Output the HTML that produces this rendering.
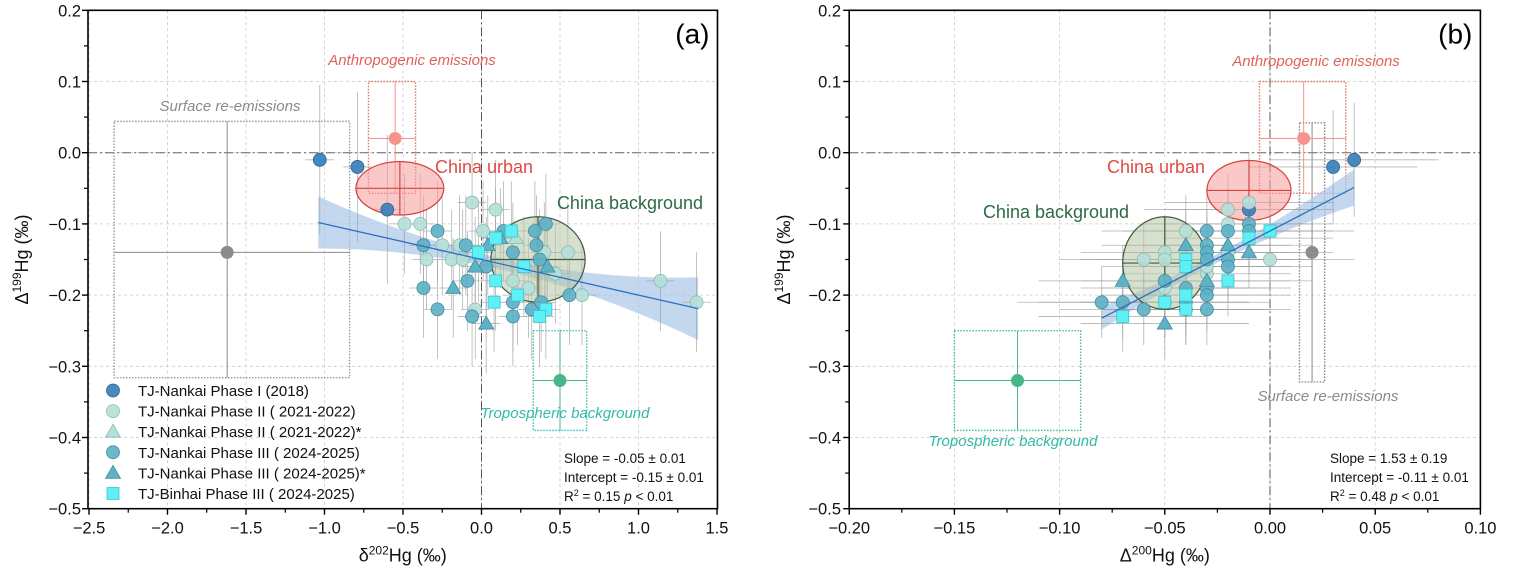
<!DOCTYPE html>
<html><head><meta charset="utf-8"><style>
html,body{margin:0;padding:0;background:#fff;}
svg{display:block;font-family:"Liberation Sans",Arial,sans-serif;}
</style></head><body>
<svg id="fig" width="1514" height="586" viewBox="0 0 1514 586" xmlns="http://www.w3.org/2000/svg">
<g id="pa"></g>
<g id="pb"></g>
</svg>
<script>
// ---------- Panel (a) data: delta202Hg vs Delta199Hg ----------
const aP1x=[-1.03,-0.79,-0.60];
const aP1y=[-0.01,-0.02,-0.08];
const aP2x=[-0.06,0.09,-0.49,-0.39,0.01,-0.35,-0.25,-0.14,-0.19,-0.12,0.20,0.40,0.55,0.64,1.14,1.37,-0.04,0.30,0.47];
const aP2y=[-0.07,-0.08,-0.10,-0.10,-0.11,-0.15,-0.13,-0.13,-0.15,-0.15,-0.18,-0.14,-0.14,-0.20,-0.18,-0.21,-0.22,-0.19,-0.17];
const aP2tx=[0.22,-0.02];
const aP2ty=[-0.12,-0.16];
const aP3x=[-0.28,-0.37,-0.10,-0.37,-0.28,-0.09,-0.06,0.03,0.14,0.20,0.34,0.41,0.35,0.37,0.56,0.20,0.20,0.32,0.38];
const aP3y=[-0.11,-0.13,-0.13,-0.19,-0.22,-0.18,-0.23,-0.16,-0.11,-0.14,-0.11,-0.10,-0.13,-0.15,-0.20,-0.21,-0.23,-0.22,-0.21];
const aP3tx=[-0.18,0.03,0.42,0.12,-0.04,0.04];
const aP3ty=[-0.19,-0.24,-0.16,-0.12,-0.16,-0.13];
const aBx=[0.19,0.09,-0.02,0.27,0.09,0.23,0.08,0.41,0.37];
const aBy=[-0.11,-0.12,-0.14,-0.16,-0.18,-0.20,-0.21,-0.22,-0.23];
const aFit=[-0.05,-0.15];        // slope, intercept
const aFitRange=[-1.04,1.38];
const aErr=[0.09,0.07];          // typical x, y error
const aXTicks=[-2.5,-2.0,-1.5,-1.0,-0.5,0.0,0.5,1.0,1.5];
const aXLabels=["\u22122.5","\u22122.0","\u22121.5","\u22121.0","\u22120.5","0.0","0.5","1.0","1.5"];
// ---------- Panel (b) data: Delta200Hg vs Delta199Hg ----------
const bP1x=[0.04,0.03,-0.01];
const bP1y=[-0.01,-0.02,-0.08];
const bP2x=[-0.01,-0.02,-0.02,-0.04,-0.06,-0.05,-0.05,0.00,-0.02,-0.03,-0.05,-0.05,-0.03];
const bP2y=[-0.07,-0.08,-0.10,-0.11,-0.15,-0.14,-0.15,-0.15,-0.14,-0.17,-0.19,-0.21,-0.16];
const bP3x=[-0.01,-0.03,-0.02,-0.03,-0.03,-0.03,-0.02,-0.02,-0.03,-0.03,-0.03,-0.04,-0.04,-0.04,-0.05,-0.06,-0.07,-0.08,-0.01];
const bP3y=[-0.10,-0.11,-0.11,-0.13,-0.14,-0.15,-0.15,-0.16,-0.19,-0.20,-0.22,-0.19,-0.21,-0.22,-0.18,-0.22,-0.21,-0.21,-0.11];
const bP3tx=[-0.07,-0.05,-0.04,-0.02,-0.01,-0.03];
const bP3ty=[-0.18,-0.24,-0.13,-0.13,-0.14,-0.18];
const bBx=[0.00,-0.01,-0.04,-0.04,-0.02,-0.04,-0.05,-0.04,-0.07];
const bBy=[-0.11,-0.12,-0.15,-0.16,-0.18,-0.20,-0.21,-0.22,-0.23];
const bFit=[1.53,-0.11];
const bFitRange=[-0.08,0.04];
const bErr=[0.04,0.05];
const bXTicks=[-0.20,-0.15,-0.10,-0.05,0.00,0.05,0.10];
const bXLabels=["\u22120.20","\u22120.15","\u22120.10","\u22120.05","0.00","0.05","0.10"];
const yTicks=[0.2,0.1,0.0,-0.1,-0.2,-0.3,-0.4,-0.5];
const yLabels=["0.2","0.1","0.0","\u22120.1","\u22120.2","\u22120.3","\u22120.4","\u22120.5"];

const NS="http://www.w3.org/2000/svg";
function mk(parent,tag,attrs,text){const e=document.createElementNS(NS,tag);for(const k in attrs)e.setAttribute(k,attrs[k]);if(text!==undefined)e.textContent=text;parent.appendChild(e);return e;}
const Y=v=>152.7-712*v;
const XA=v=>481.5+157*v;
const XB=v=>1270+2104*v;

const COL={p1:["#3b7fb7","#2a6597"],p2:["#b5e0d8","#8fb9b2"],p3:["#5fb1c6","#3d8ea4"],bh:["#5ef0f5","#35c6cf"]};

function marker(g,shape,cx,cy,c,name){
  let e;
  if(shape==="c"){e=mk(g,"circle",{cx:cx,cy:cy,r:6.5,fill:c[0],stroke:c[1],"stroke-width":0.8,"fill-opacity":0.92});}
  else if(shape==="t"){e=mk(g,"polygon",{points:`${cx},${cy-7.5} ${cx-7.5},${cy+5.5} ${cx+7.5},${cy+5.5}`,fill:c[0],stroke:c[1],"stroke-width":0.8});}
  else {e=mk(g,"rect",{x:cx-6,y:cy-6,width:12,height:12,fill:c[0],stroke:c[1],"stroke-width":0.8});}
  
  
  return e;
}

function panel(g,X,x0,x1,xt){
  const yT=Y(0.2),yB=Y(-0.5);
  xt.forEach(v=>{const l=mk(g,"line",{x1:X(v),x2:X(v),y1:yT,y2:yB,stroke:"#c8c8c8","stroke-width":0.8,"stroke-dasharray":"3,3"});
    
    });
  yTicks.forEach(v=>{const l=mk(g,"line",{x1:x0,x2:x1,y1:Y(v),y2:Y(v),stroke:"#c8c8c8","stroke-width":0.8,"stroke-dasharray":"3,3"});
    
    });
  let z=mk(g,"line",{x1:x0,x2:x1,y1:Y(0),y2:Y(0),stroke:"#666","stroke-width":1,"stroke-dasharray":"9,3,2,3"});
  
  
  z=mk(g,"line",{x1:X(0),x2:X(0),y1:yT,y2:yB,stroke:"#555","stroke-width":1,"stroke-dasharray":"9,3,2,3"});
  
  
}

function axes(g,X,x0,x1,xt,xl,xtitle,plabel,ytitleX,ylabX){
  const yT=Y(0.2),yB=Y(-0.5);
  const f=mk(g,"rect",{x:x0,y:yT,width:x1-x0,height:yB-yT,fill:"none",stroke:"#000","stroke-width":1.6});
  
  
  const step=xt[1]-xt[0];
  xt.forEach((v,i)=>{
    mk(g,"line",{x1:X(v),x2:X(v),y1:yB,y2:yB+6,stroke:"#000","stroke-width":1.4});
    if(i<xt.length-1){const m=v+step/2;mk(g,"line",{x1:X(m),x2:X(m),y1:yB,y2:yB+4,stroke:"#000","stroke-width":1.2});}
    const t=mk(g,"text",{x:X(v),y:yB+25,"font-size":16.5,"text-anchor":"middle",fill:"#111"},xl[i]);
    
    
  });
  yTicks.forEach((v,i)=>{
    mk(g,"line",{x1:x0-6,x2:x0,y1:Y(v),y2:Y(v),stroke:"#000","stroke-width":1.4});
    if(i<yTicks.length-1)mk(g,"line",{x1:x0-4,x2:x0,y1:Y(v-0.05),y2:Y(v-0.05),stroke:"#000","stroke-width":1.2});
    const t=mk(g,"text",{x:ylabX,y:Y(v)+6,"font-size":16.5,"text-anchor":"end",fill:"#111"},yLabels[i]);
    
    
  });
  const xtT=mk(g,"text",{x:(x0+x1)/2,y:yB+53,"font-size":18,"text-anchor":"middle",fill:"#111"});
  xtT.innerHTML=xtitle;
  
  
  const ytT=mk(g,"text",{x:0,y:0,"font-size":18,"text-anchor":"middle",fill:"#111",transform:`translate(${ytitleX},${Y(-0.15)}) rotate(-90)`});
  ytT.innerHTML='\u0394<tspan font-size="12" dy="-7">199</tspan><tspan dy="7">Hg (\u2030)</tspan>';
  
  
  const pl=mk(g,"text",{x:x1-8,y:yT+33,"font-size":28,"text-anchor":"end",fill:"#000"},plabel);
  
  
}

function fitBand(g,X,fit,range,h,name){
  let up=[],dn=[];
  for(let i=0;i<=40;i++){const x=range[0]+(range[1]-range[0])*i/40;const y=fit[0]*x+fit[1];up.push(`${X(x)},${Y(y+h(x))}`);dn.unshift(`${X(x)},${Y(y-h(x))}`);}
  const b=mk(g,"polygon",{points:up.concat(dn).join(" "),fill:"#a9c8e8","fill-opacity":0.7});
  
  
  return ()=>{const l=mk(g,"line",{x1:X(range[0]),y1:Y(fit[0]*range[0]+fit[1]),x2:X(range[1]),y2:Y(fit[0]*range[1]+fit[1]),stroke:"#2a72c0","stroke-width":1.3});
    
    };
}

function errs(g,X,xs,ys,ex,ey){
  xs.forEach((x,i)=>{
    mk(g,"line",{x1:X(x-ex),x2:X(x+ex),y1:Y(ys[i]),y2:Y(ys[i]),stroke:"#9a9a9a","stroke-width":0.8,"stroke-opacity":0.75});
    mk(g,"line",{x1:X(x),x2:X(x),y1:Y(ys[i]+ey),y2:Y(ys[i]-ey),stroke:"#9a9a9a","stroke-width":0.8,"stroke-opacity":0.75});
  });
}
function series(g,X,xs,ys,shape,c,name){xs.forEach((x,i)=>marker(g,shape,X(x),Y(ys[i]),c,name));}

function source(g,X,o){
  const r=mk(g,"rect",{x:X(o.box[0]),y:Y(o.box[3]),width:X(o.box[1])-X(o.box[0]),height:Y(o.box[2])-Y(o.box[3]),fill:"none",stroke:o.col,"stroke-width":1.4,"stroke-dasharray":"1.5,1.5"});
  
  
  mk(g,"line",{x1:X(o.ex[0]),x2:X(o.ex[1]),y1:Y(o.pt[1]),y2:Y(o.pt[1]),stroke:o.ptcol,"stroke-width":1});
  mk(g,"line",{x1:X(o.pt[0]),x2:X(o.pt[0]),y1:Y(o.ey[0]),y2:Y(o.ey[1]),stroke:o.ptcol,"stroke-width":1});
  const c=mk(g,"circle",{cx:X(o.pt[0]),cy:Y(o.pt[1]),r:6.5,fill:o.ptcol});
  
  
}
function ellipse(g,X,cx,cy,rx,ry,fill,stroke,name){
  const e=mk(g,"ellipse",{cx:X(cx),cy:Y(cy),rx:X(cx+rx)-X(cx),ry:Y(cy-ry)-Y(cy),fill:fill,"fill-opacity":0.55,stroke:stroke,"stroke-width":1.2});
  
  
  mk(g,"line",{x1:X(cx-rx),x2:X(cx+rx),y1:Y(cy),y2:Y(cy),stroke:stroke,"stroke-width":1.2});
  mk(g,"line",{x1:X(cx),x2:X(cx),y1:Y(cy+ry),y2:Y(cy-ry),stroke:stroke,"stroke-width":1.2});
}
function label(g,x,y,txt,col,size,italic,name,anchor){
  const t=mk(g,"text",{x:x,y:y,"font-size":size,fill:col,"font-style":italic?"italic":"normal","text-anchor":anchor||"middle"},txt);
  
  
}
function stats(g,x,y,lines){
  lines.forEach((s,i)=>{const t=mk(g,"text",{x:x,y:y+i*19,"font-size":13.5,fill:"#111"});t.innerHTML=s;
    
    });
}

// ===== Panel A =====
const ga=document.getElementById('pa');
panel(ga,XA,88,717.5,aXTicks);
source(ga,XA,{box:[-2.34,-0.84,-0.316,0.044],pt:[-1.62,-0.14],ex:[-2.34,-0.84],ey:[0.044,-0.316],col:"#9a9a9a",ptcol:"#8c8c8c",name:"surface-re-emissions"});
source(ga,XA,{box:[-0.72,-0.42,-0.057,0.10],pt:[-0.55,0.02],ex:[-0.72,-0.42],ey:[0.10,-0.057],col:"#e0776d",ptcol:"#f4948c",name:"anthropogenic-emissions"});
source(ga,XA,{box:[0.33,0.67,-0.39,-0.25],pt:[0.50,-0.32],ex:[0.33,0.67],ey:[-0.25,-0.39],col:"#3fbfb0",ptcol:"#4bb58a",name:"tropospheric-background"});
const drawLineA=fitBand(ga,XA,aFit,aFitRange,x=>0.008+0.022*(x-0.1)*(x-0.1),'panel-a');
errs(ga,XA,aP1x,aP1y,aErr[0],aErr[1]*1.5);
errs(ga,XA,aP2x,aP2y,aErr[0],aErr[1]);
errs(ga,XA,aP3x,aP3y,aErr[0],aErr[1]);
errs(ga,XA,aP3tx,aP3ty,aErr[0],aErr[1]);
errs(ga,XA,aBx,aBy,aErr[0],aErr[1]);
ellipse(ga,XA,-0.52,-0.05,0.28,0.0375,"#f79a9a","#d94040","china-urban-ellipse");
ellipse(ga,XA,0.36,-0.15,0.30,0.06,"#b6c7a8","#3d5a3d","china-background-ellipse");
series(ga,XA,aP1x,aP1y,"c",COL.p1,"phase-i-point");
series(ga,XA,aP2x,aP2y,"c",COL.p2,"phase-ii-point");
series(ga,XA,aP2tx,aP2ty,"t",COL.p2,"phase-ii-triangle");
series(ga,XA,aP3x,aP3y,"c",COL.p3,"phase-iii-point");
series(ga,XA,aP3tx,aP3ty,"t",COL.p3,"phase-iii-triangle");
series(ga,XA,aBx,aBy,"s",COL.bh,"binhai-point");
drawLineA();
label(ga,412,65,"Anthropogenic emissions","#e0625a",15,true,"anthropogenic-label");
label(ga,230,111,"Surface re-emissions","#8a8a8a",15,true,"surface-re-emissions-label");
label(ga,484,173,"China urban","#e04a44",18,false,"china-urban-label");
label(ga,630,209,"China background","#2e6a48",18,false,"china-background-label");
label(ga,565,418,"Tropospheric background","#34b9a6",15,true,"tropospheric-label");
stats(ga,564,463,["Slope = -0.05 \u00b1 0.01","Intercept = -0.15 \u00b1 0.01",'R<tspan font-size="9" dy="-5">2</tspan><tspan dy="5"> = 0.15  </tspan><tspan font-style="italic">p</tspan> &lt; 0.01']);
const legItems=[["c",COL.p1,"TJ-Nankai Phase I (2018)"],["c",COL.p2,"TJ-Nankai Phase II ( 2021-2022)"],["t",COL.p2,"TJ-Nankai Phase II ( 2021-2022)*"],["c",COL.p3,"TJ-Nankai Phase III ( 2024-2025)"],["t",COL.p3,"TJ-Nankai Phase III ( 2024-2025)*"],["s",COL.bh,"TJ-Binhai Phase III ( 2024-2025)"]];
const lg=mk(ga,"g",{});


legItems.forEach((it,i)=>{const y=390.5+i*20.6;marker(lg,it[0],113,y,it[1],'legend-marker');
  const t=mk(lg,"text",{x:138,y:y+5.5,"font-size":15,fill:"#111"},it[2]);
  
  });
axes(ga,XA,88,717.5,aXTicks,aXLabels,'\u03b4<tspan font-size="12" dy="-7">202</tspan><tspan dy="7">Hg (\u2030)</tspan>',"(a)",28,81);

// ===== Panel B =====
const gb=document.getElementById('pb');
panel(gb,XB,849.2,1480.4,bXTicks);
source(gb,XB,{box:[0.014,0.026,-0.322,0.042],pt:[0.02,-0.14],ex:[0.02,0.02],ey:[0.042,-0.322],col:"#8a8a8a",ptcol:"#8c8c8c",name:"surface-re-emissions"});
source(gb,XB,{box:[-0.005,0.036,-0.057,0.10],pt:[0.016,0.02],ex:[-0.005,0.036],ey:[0.10,-0.057],col:"#e0776d",ptcol:"#f4948c",name:"anthropogenic-emissions"});
source(gb,XB,{box:[-0.15,-0.09,-0.39,-0.25],pt:[-0.12,-0.32],ex:[-0.15,-0.09],ey:[-0.25,-0.39],col:"#3fbfb0",ptcol:"#4bb58a",name:"tropospheric-background"});
const drawLineB=fitBand(gb,XB,bFit,bFitRange,x=>0.006+4*(x+0.03)*(x+0.03),'panel-b');
errs(gb,XB,bP1x,bP1y,bErr[0],bErr[1]*1.6);
errs(gb,XB,bP2x,bP2y,bErr[0],bErr[1]);
errs(gb,XB,bP3x,bP3y,bErr[0],bErr[1]);
errs(gb,XB,bP3tx,bP3ty,bErr[0],bErr[1]);
errs(gb,XB,bBx,bBy,bErr[0],bErr[1]);
ellipse(gb,XB,-0.01,-0.053,0.02,0.042,"#f79a9a","#d94040","china-urban-ellipse");
ellipse(gb,XB,-0.05,-0.155,0.02,0.065,"#b6c7a8","#3d5a3d","china-background-ellipse");
series(gb,XB,bP1x,bP1y,"c",COL.p1,"phase-i-point");
series(gb,XB,bP2x,bP2y,"c",COL.p2,"phase-ii-point");
series(gb,XB,bP3x,bP3y,"c",COL.p3,"phase-iii-point");
series(gb,XB,bP3tx,bP3ty,"t",COL.p3,"phase-iii-triangle");
series(gb,XB,bBx,bBy,"s",COL.bh,"binhai-point");
drawLineB();
label(gb,1316,66,"Anthropogenic emissions","#e0625a",15,true,"anthropogenic-label");
label(gb,1328,401,"Surface re-emissions","#8a8a8a",15,true,"surface-re-emissions-label");
label(gb,1156,173,"China urban","#e04a44",18,false,"china-urban-label");
label(gb,1056,218,"China background","#2e6a48",18,false,"china-background-label");
label(gb,1013,446,"Tropospheric background","#34b9a6",15,true,"tropospheric-label");
stats(gb,1330,463,["Slope = 1.53 \u00b1 0.19","Intercept = -0.11 \u00b1 0.01",'R<tspan font-size="9" dy="-5">2</tspan><tspan dy="5"> = 0.48  </tspan><tspan font-style="italic">p</tspan> &lt; 0.01']);
axes(gb,XB,849.2,1480.4,bXTicks,bXLabels,'\u0394<tspan font-size="12" dy="-7">200</tspan><tspan dy="7">Hg (\u2030)</tspan>',"(b)",790,841);
</script>
</body></html>
